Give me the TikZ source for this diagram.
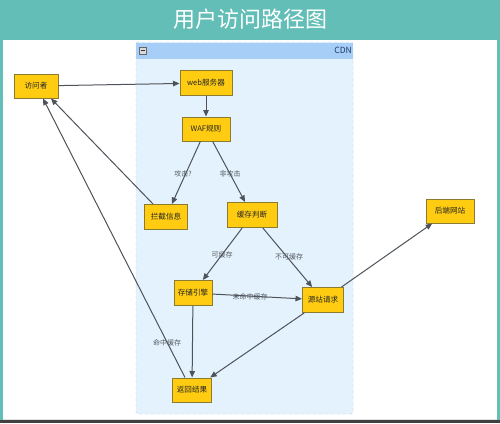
\documentclass[tikz,border=0pt]{standalone}
\usepackage{fontspec}
\setmainfont{Noto Sans CJK SC}
\usetikzlibrary{arrows.meta}
\definecolor{teal1}{HTML}{62BEB6}
\definecolor{hdrblue}{HTML}{A6CEF6}
\definecolor{bodyblue}{HTML}{E3F2FD}
\definecolor{bodyborder}{HTML}{B8C8D6}
\definecolor{nodefill}{HTML}{FFCC11}
\definecolor{nodeborder}{HTML}{8C7A2E}
\definecolor{edgecol}{HTML}{4E535A}
\definecolor{labcol}{HTML}{555A60}
\definecolor{cdntext}{HTML}{1F3A6A}
\tikzset{
  box/.style={draw=nodeborder, line width=1pt, fill=nodefill, minimum height=24pt,
    inner sep=1pt, font=\fontsize{7.6}{8}\selectfont, text=black!85},
  conn/.style={draw=edgecol, line width=1pt, -{Triangle[length=6.5pt,width=5.5pt]}},
  lab/.style={font=\fontsize{7}{7}\selectfont, text=labcol, inner sep=0.5pt}
}
\begin{document}
\begin{tikzpicture}[x=1pt,y=-1pt]
\useasboundingbox (0,0) rectangle (500,423);
% frame
\fill[teal1] (0,0) rectangle (500,423);
\fill[white] (3,40) rectangle (497,420);
\fill[black!75] (0,420) rectangle (500,423);
\fill[black!12] (3,418.5) rectangle (497,420);
\node[text=white, font=\fontsize{22}{24}\selectfont] (title) at (250,19) {用户访问路径图};
% CDN container
\draw[bodyborder, dashed, fill=bodyblue, rounded corners=2pt] (136,42) rectangle (353,414);
\fill[hdrblue] (136,42.5) rectangle (353,58.5);
\draw[black!60, fill=white!85!black, line width=0.5pt] (139,47) rectangle (146,54);
\draw[black!80, line width=0.9pt] (140.5,50.5) -- (144.5,50.5);
\node[anchor=east, text=cdntext, font=\fontsize{8.5}{9}\selectfont, inner sep=0pt] (cdn) at (352,50.5) {CDN};
% nodes
\node[box, minimum width=44pt] (visitor) at (36,86) {访问者};
\node[box, minimum width=52pt, minimum height=25pt] (web) at (206,83) {web服务器};
\node[box, minimum width=48pt] (waf) at (206,129) {WAF规则};
\node[box, minimum width=43pt, minimum height=25pt] (block) at (166,217) {拦截信息};
\node[box, minimum width=50pt, minimum height=25pt] (cache) at (252,215) {缓存判断};
\node[box, minimum width=38pt, minimum height=25pt] (store) at (193,293) {存储引擎};
\node[box, minimum width=41pt, minimum height=25pt] (origin) at (323,300) {源站请求};
\node[box, minimum width=39pt] (result) at (192,390) {返回结果};
\node[box, minimum width=48pt] (backend) at (450,211) {后端网站};
% edges
\draw[conn] (visitor) -- (web);
\draw[conn] (web) -- (waf);
\draw[conn] (waf) -- (block);
\draw[conn] (waf) -- (cache);
\draw[conn] ([xshift=-13pt]block.north) -- ([xshift=15pt]visitor.south);
\draw[conn] (cache) -- (store);
\draw[conn] (cache) -- (origin);
\draw[conn] (store) -- (origin);
\draw[conn] (store) -- (result);
\draw[conn] (origin) -- (result);
\draw[conn] (origin) -- (backend);
\draw[conn] ([xshift=-7pt]result.north) -- ([xshift=7pt]visitor.south);
% labels
\node[lab] (l1) at (183,174) {攻击?};
\node[lab] (l2) at (230,174) {非攻击};
\node[lab] (l3) at (222,255) {可缓存};
\node[lab] (l4) at (289,257) {不可缓存};
\node[lab] (l5) at (250,297) {未命中缓存};
\node[lab] (l6) at (167,343) {命中缓存};
\end{tikzpicture}
\end{document}
